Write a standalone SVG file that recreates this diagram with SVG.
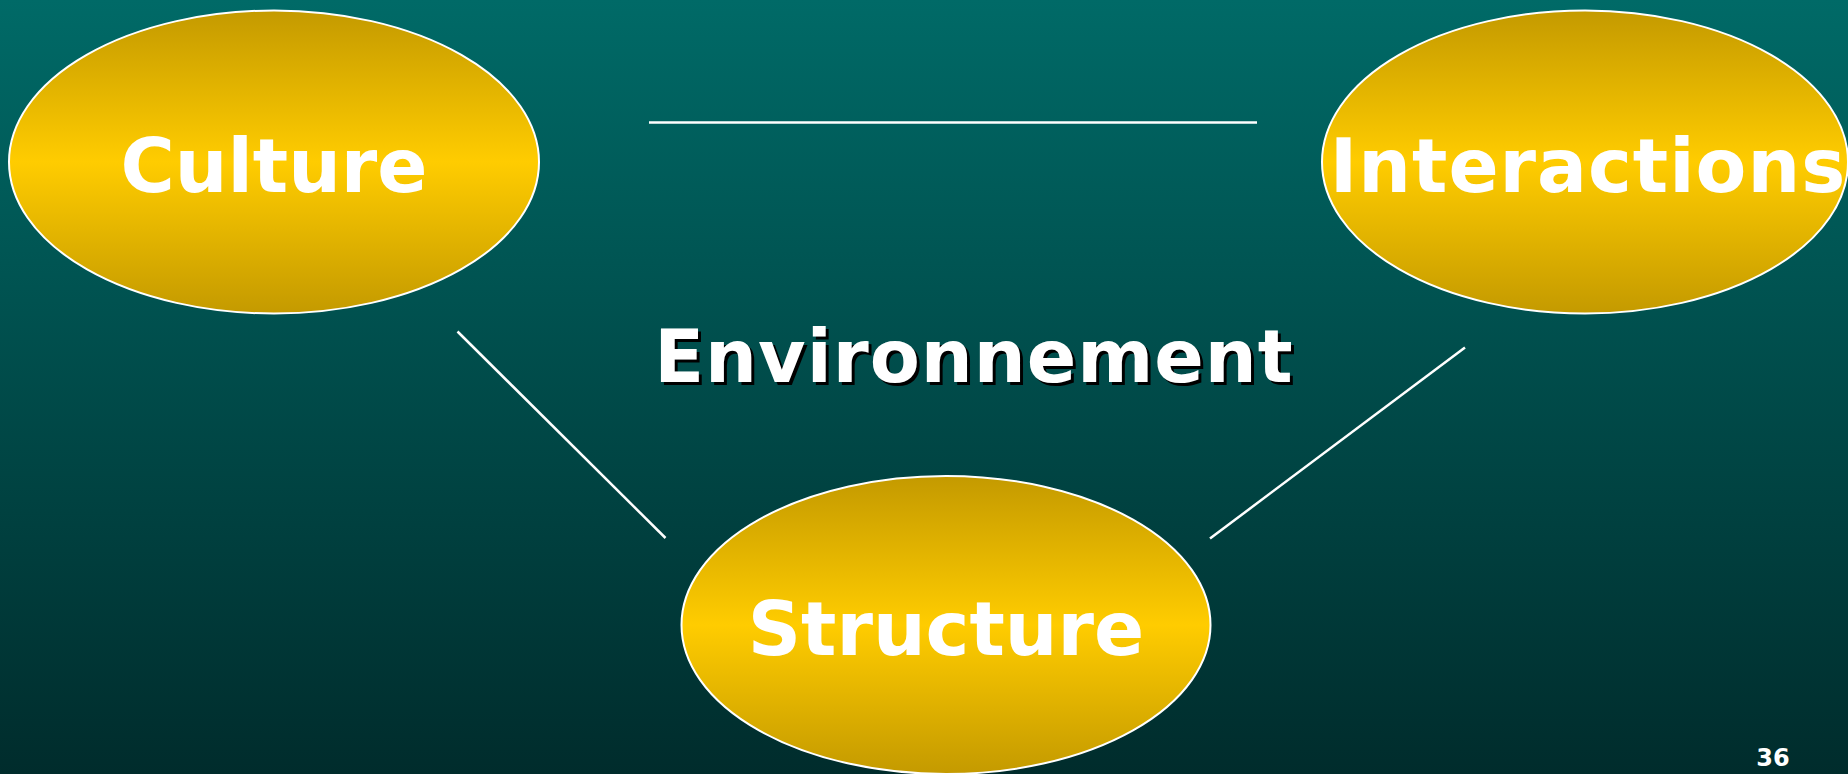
<svg xmlns="http://www.w3.org/2000/svg" width="1848" height="774" viewBox="0 0 1848 774">
  <defs>
    <linearGradient id="bg" x1="0" y1="0" x2="0" y2="1">
      <stop offset="0" stop-color="#006a67"/>
      <stop offset="1" stop-color="#002c2c"/>
    </linearGradient>
    <linearGradient id="gold" x1="0" y1="0" x2="0" y2="1">
      <stop offset="0" stop-color="#c49a00"/>
      <stop offset="0.5" stop-color="#ffcc00"/>
      <stop offset="1" stop-color="#c49a00"/>
    </linearGradient>
  </defs>
  <style>
    .node ellipse { fill: url(#gold); stroke: #ffffff; stroke-width: 2; }
    .label { font-family: "DejaVu Sans", Verdana, sans-serif; font-weight: bold; font-size: 74px; fill: #ffffff; text-anchor: middle; }
    .link { stroke: #ffffff; stroke-width: 2.5; fill: none; }
    .center { font-family: "DejaVu Sans", Verdana, sans-serif; font-weight: bold; font-size: 73px; letter-spacing: 1px; text-anchor: middle; }
    .pageno { font-family: "DejaVu Sans", "Comic Sans MS", sans-serif; font-weight: bold; font-size: 24px; fill: #ffffff; text-anchor: middle; }
  </style>

  <!-- background -->
  <rect x="0" y="0" width="1848" height="774" fill="url(#bg)"/>

  <!-- connectors between the three ellipses -->
  <g id="connectors">
    <line class="link" x1="649" y1="122.5" x2="1257" y2="122.5"/>
    <line class="link" x1="457.5" y1="331.5" x2="665.5" y2="538"/>
    <line class="link" x1="1465" y1="347.5" x2="1210" y2="538.5"/>
  </g>

  <g id="culture" class="node">
    <ellipse cx="274" cy="162" rx="265" ry="151.5"/>
    <text class="label" x="274" y="192">Culture</text>
  </g>

  <g id="interactions" class="node">
    <ellipse cx="1585" cy="162" rx="263" ry="151.5"/>
    <text class="label" x="1588" y="192" letter-spacing="1">Interactions</text>
  </g>

  <g id="structure" class="node">
    <ellipse cx="946" cy="625" rx="264.5" ry="149"/>
    <text class="label" x="946" y="655">Structure</text>
  </g>

  <!-- central label with drop shadow -->
  <g id="environnement">
    <text class="center" x="977" y="385" fill="#000000">Environnement</text>
    <text class="center" x="974" y="382" fill="#ffffff">Environnement</text>
  </g>

  <!-- slide number -->
  <text class="pageno" x="1773" y="766">36</text>
</svg>
